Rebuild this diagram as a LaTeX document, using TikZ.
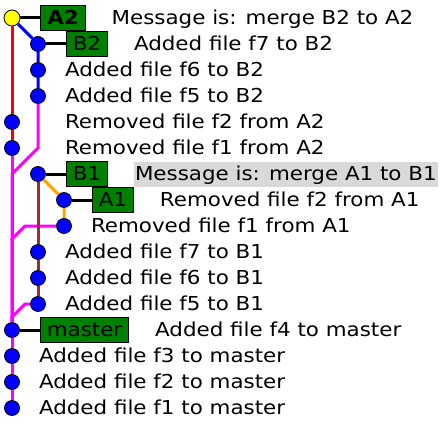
\documentclass[tikz,border=0pt]{standalone}
\usepackage{fontspec}
\setmainfont{DejaVu Sans}[FakeStretch=1.115]
\usepackage{xcolor}
\usepackage{tikz}
\usetikzlibrary{positioning}
\definecolor{refgreen}{RGB}{0,128,0}
\definecolor{branchred}{RGB}{255,0,0}
\definecolor{branchblue}{RGB}{0,0,255}
\definecolor{branchmagenta}{RGB}{255,0,255}
\definecolor{branchbrown}{RGB}{165,42,42}
\definecolor{branchorange}{RGB}{255,165,0}
\definecolor{headyellow}{RGB}{255,255,0}
\definecolor{selgray}{RGB}{217,217,217}

\begin{document}
\begin{tikzpicture}[x=1pt, y=-1pt, line width=3pt,
    font=\fontsize{19.2}{23}\selectfont,
    commit/.style={circle, draw=black, line width=0.8pt, fill=branchblue, minimum size=15pt, inner sep=0pt},
    reflabel/.style={draw=black, line width=0.8pt, fill=refgreen, minimum height=25pt,
      inner xsep=6.5pt, inner ysep=0pt, text height=13pt, text depth=0pt},
    msg/.style={inner sep=0pt, text height=13pt, text depth=0pt, anchor=west}]
  \useasboundingbox (0,0) rectangle (441,425);
  % commits, one per row
  \node[commit, fill=headyellow, minimum size=16pt] (c0) at (12,18) {};
  \foreach \i/\col in {1/1,2/1,3/1,4/0,5/0,6/1,7/2,8/2,9/1,10/1,11/1,12/0,13/0,14/0,15/0}
    \node[commit] (c\i) at (12+26*\col, 18+26*\i) {};
  % bends of the lines into master
  \coordinate (j3a) at (38,148);
  \coordinate (j3b) at (12,174);
  \coordinate (j8a) at (25,226);
  \coordinate (j8b) at (12,239);
  \coordinate (j11a) at (25,304);
  \coordinate (j11b) at (12,317);
  % branch lines
  \draw[branchred] (c0) -- (c4) -- (c5);
  \draw[branchblue] (c0) -- (c1) -- (c2) -- (c3);
  \draw[branchmagenta] (c5) -- (c12);
  \draw[branchmagenta] (c3) -- (j3a) -- (j3b) -- (c12);
  \draw[branchmagenta] (c8) -- (j8a) -- (j8b) -- (c12);
  \draw[branchmagenta] (c11) -- (j11a) -- (j11b) -- (c12);
  \draw[branchmagenta] (c12) -- (c13) -- (c14) -- (c15);
  \draw[branchbrown] (c6) -- (c9) -- (c10) -- (c11);
  \draw[branchorange] (c6) -- (c7) -- (c8);
  % refs and messages
  \node[reflabel, right=20pt of c0] (A2) {\bfseries A2};
  \node[msg, right=24.5pt of A2] (m0) {Message is: merge B2 to A2};
  \node[reflabel, right=20pt of c1] (B2) {B2};
  \node[msg, right=24.5pt of B2] (m1) {Added file f7 to B2};
  \node[msg] (m2) at (63.5,70) {Added file f6 to B2};
  \node[msg] (m3) at (63.5,96) {Added file f5 to B2};
  \node[msg] (m4) at (63.5,122) {Removed file f2 from A2};
  \node[msg] (m5) at (63.5,148) {Removed file f1 from A2};
  \node[reflabel, right=20pt of c6] (B1) {B1};
  \node[msg, fill=selgray, inner xsep=1pt, minimum height=25pt, right=24.5pt of B1] (m6) {Message is: merge A1 to B1};
  \node[reflabel, right=20pt of c7] (A1) {A1};
  \node[msg, right=24.5pt of A1] (m7) {Removed file f2 from A1};
  \node[msg] (m8) at (89.5,226) {Removed file f1 from A1};
  \node[msg] (m9) at (63.5,252) {Added file f7 to B1};
  \node[msg] (m10) at (63.5,278) {Added file f6 to B1};
  \node[msg] (m11) at (63.5,304) {Added file f5 to B1};
  \node[reflabel, right=20pt of c12] (master) {master};
  \node[msg, right=24.5pt of master] (m12) {Added file f4 to master};
  \node[msg] (m13) at (37.5,356) {Added file f3 to master};
  \node[msg] (m14) at (37.5,382) {Added file f2 to master};
  \node[msg] (m15) at (37.5,408) {Added file f1 to master};
  \draw (c0) -- (A2);
  \draw (c1) -- (B2);
  \draw (c6) -- (B1);
  \draw (c7) -- (A1);
  \draw (c12) -- (master);
\end{tikzpicture}
\end{document}
